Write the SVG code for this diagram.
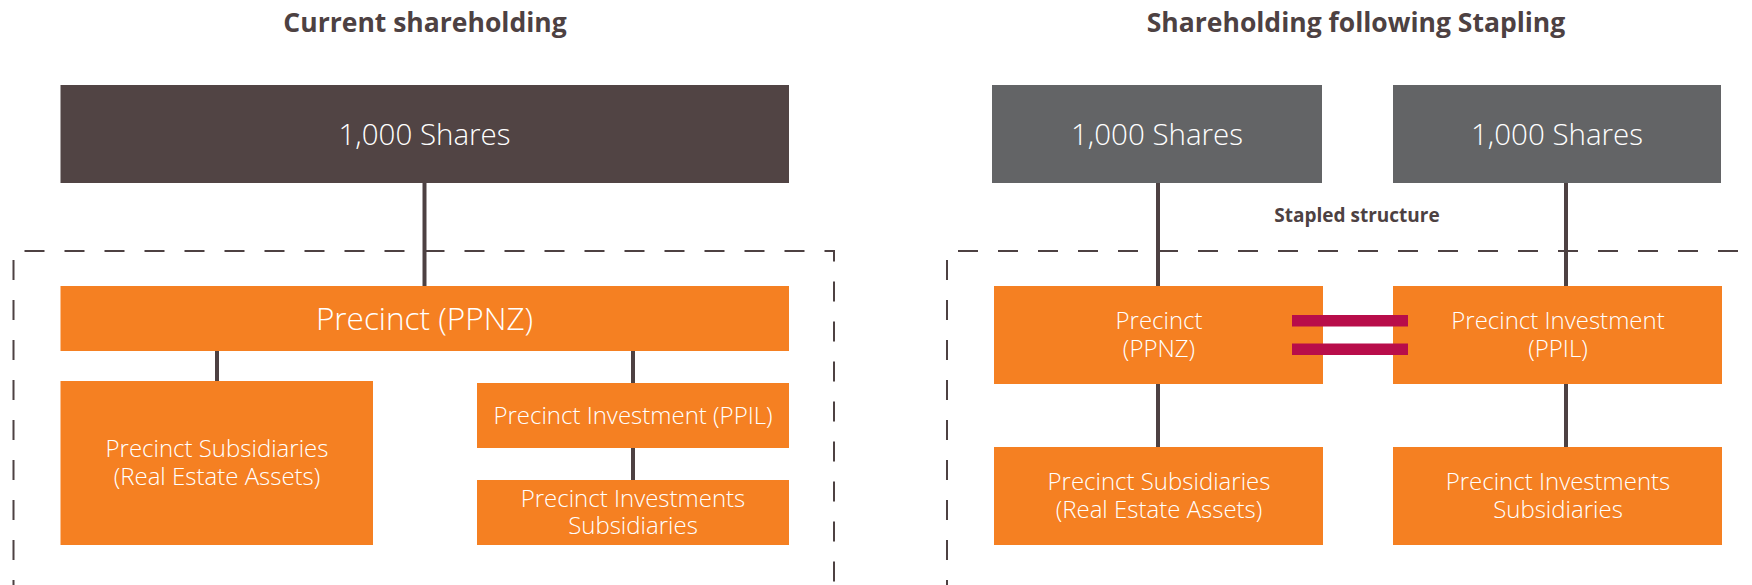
<svg xmlns="http://www.w3.org/2000/svg" width="1752" height="585" viewBox="0 0 1752 585">
  <style>
    .title { font-family: "Open Sans", "Liberation Sans", sans-serif; font-weight: 700; font-size: 26.5px; fill: #4d4142; text-anchor: middle; }
    .label { font-family: "Open Sans", "Liberation Sans", sans-serif; font-weight: 300; fill: #ffffff; text-anchor: middle; }
    .big { font-size: 29.5px; }
    .wide { font-size: 31.5px; }
    .mid { font-size: 24px; }
    .note { font-family: "Open Sans", "Liberation Sans", sans-serif; font-weight: 700; font-size: 19px; fill: #4d4142; text-anchor: middle; }
    .shares-dark { fill: #514444; }
    .shares-grey { fill: #636466; }
    .entity { fill: #f58022; }
    .link { stroke: #4d4142; stroke-width: 4; fill: none; }
    .boundary { stroke: #4d4142; stroke-width: 2; fill: none; stroke-dasharray: 20 20; }
    .staple { fill: #b80d4a; }
  </style>

  <!-- Section headings -->
  <text class="title" x="425" y="32">Current shareholding</text>
  <text class="title" x="1356" y="32">Shareholding following Stapling</text>

  <!-- Stapled-group boundaries (dashed) -->
  <g id="boundaries">
    <path class="boundary" d="M13.5 600 V251 H834 V600"/>
    <path class="boundary" d="M947 600 V251 H1760"/>
  </g>

  <text class="note" x="1357" y="222">Stapled structure</text>

  <!-- Ownership links -->
  <g id="connectors">
    <line class="link" x1="424.5" y1="183" x2="424.5" y2="286"/>
    <line class="link" x1="217" y1="351" x2="217" y2="381"/>
    <line class="link" x1="633" y1="351" x2="633" y2="383"/>
    <line class="link" x1="633" y1="448" x2="633" y2="480"/>
    <line class="link" x1="1158" y1="183" x2="1158" y2="286"/>
    <line class="link" x1="1566" y1="183" x2="1566" y2="286"/>
    <line class="link" x1="1158" y1="384" x2="1158" y2="447"/>
    <line class="link" x1="1566" y1="384" x2="1566" y2="447"/>
  </g>

  <!-- Current shareholding -->
  <g id="shares-current">
    <rect class="shares-dark" x="60.5" y="85" width="728.5" height="98"/>
    <text class="label big" x="424.5" y="145">1,000 Shares</text>
  </g>
  <g id="ppnz-current">
    <rect class="entity" x="60.5" y="286" width="728.5" height="65"/>
    <text class="label wide" x="424.5" y="330">Precinct (PPNZ)</text>
  </g>
  <g id="ppnz-subs-current">
    <rect class="entity" x="60.5" y="381" width="312.5" height="164"/>
    <text class="label mid" x="217" y="457">Precinct Subsidiaries</text>
    <text class="label mid" x="217" y="485">(Real Estate Assets)</text>
  </g>
  <g id="ppil-current">
    <rect class="entity" x="477" y="383" width="312" height="65"/>
    <text class="label mid" x="633" y="424">Precinct Investment (PPIL)</text>
  </g>
  <g id="ppil-subs-current">
    <rect class="entity" x="477" y="480" width="312" height="65"/>
    <text class="label mid" x="633" y="507">Precinct Investments</text>
    <text class="label mid" x="633" y="534">Subsidiaries</text>
  </g>

  <!-- Shareholding following stapling -->
  <g id="shares-ppnz">
    <rect class="shares-grey" x="992" y="85" width="330" height="98"/>
    <text class="label big" x="1157" y="145">1,000 Shares</text>
  </g>
  <g id="shares-ppil">
    <rect class="shares-grey" x="1393" y="85" width="328" height="98"/>
    <text class="label big" x="1557" y="145">1,000 Shares</text>
  </g>
  <g id="ppnz-stapled">
    <rect class="entity" x="994" y="286" width="329" height="98"/>
    <text class="label mid" x="1159" y="329">Precinct</text>
    <text class="label mid" x="1159" y="357">(PPNZ)</text>
  </g>
  <g id="ppil-stapled">
    <rect class="entity" x="1393" y="286" width="329" height="98"/>
    <text class="label mid" x="1558" y="329">Precinct Investment</text>
    <text class="label mid" x="1558" y="357">(PPIL)</text>
  </g>
  <g id="ppnz-subs-stapled">
    <rect class="entity" x="994" y="447" width="329" height="98"/>
    <text class="label mid" x="1159" y="490">Precinct Subsidiaries</text>
    <text class="label mid" x="1159" y="518">(Real Estate Assets)</text>
  </g>
  <g id="ppil-subs-stapled">
    <rect class="entity" x="1393" y="447" width="329" height="98"/>
    <text class="label mid" x="1558" y="490">Precinct Investments</text>
    <text class="label mid" x="1558" y="518">Subsidiaries</text>
  </g>

  <!-- Staple symbol between the two stapled entities -->
  <g id="staple">
    <rect class="staple" x="1292" y="315" width="116" height="11.5"/>
    <rect class="staple" x="1292" y="343.5" width="116" height="11.5"/>
  </g>
</svg>
